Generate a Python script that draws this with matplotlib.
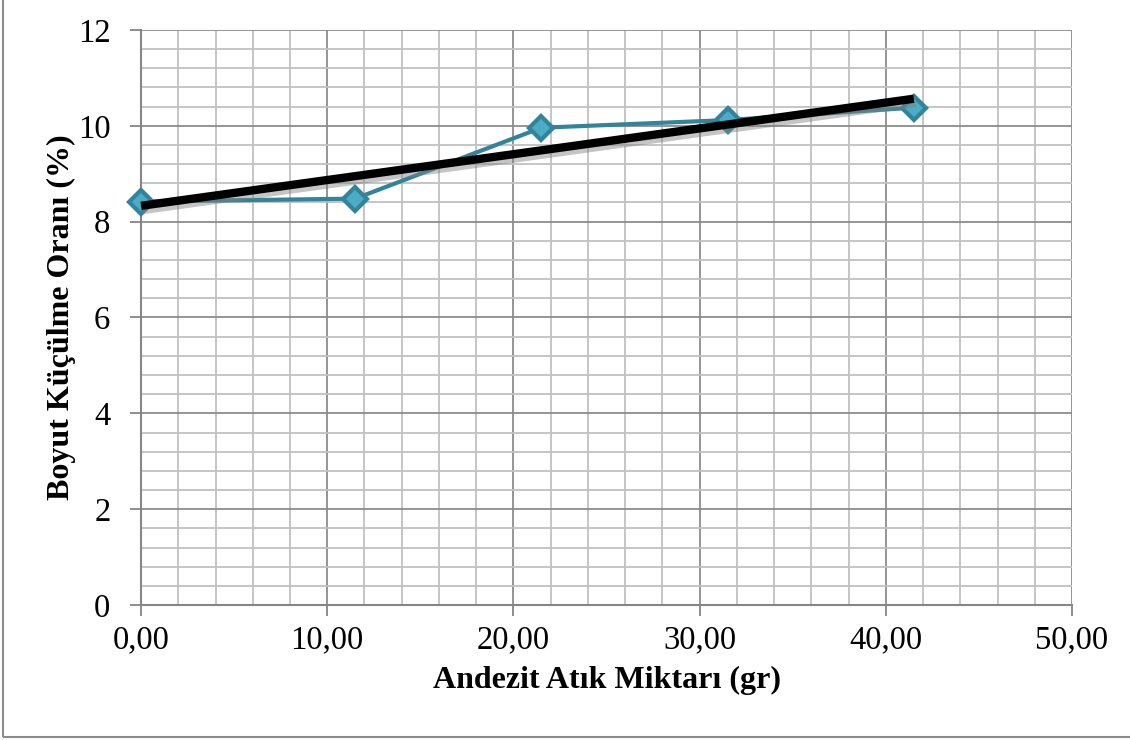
import numpy as np
import matplotlib.pyplot as plt
import matplotlib.patheffects as pe
from matplotlib.patches import Rectangle
from matplotlib.ticker import MultipleLocator, FuncFormatter

plt.rcParams['font.family'] = ['Liberation Serif', 'DejaVu Serif']

# Measured shrinkage vs andesite waste amount
waste_gr = [0.0, 11.5, 21.5, 31.5, 41.5]
shrinkage_pct = [8.42, 8.48, 9.96, 10.12, 10.38]

# Linear trend through the measurements
slope, intercept = np.polyfit(waste_gr, shrinkage_pct, 1)
trend_x = np.array([waste_gr[0], waste_gr[-1]])
trend_y = slope * trend_x + intercept

fig = plt.figure(figsize=(11.3, 7.4), dpi=100)
ax = fig.add_axes([0.1248, 0.1824, 0.8239, 0.7771])

# outer chart border
fig.patches.append(Rectangle((0.003, 0.004), 1.2, 1.2, transform=fig.transFigure,
                             fill=False, edgecolor='#8c8c8c', linewidth=1.5))

ax.set_xlim(0, 50)
ax.set_ylim(0, 12)
ax.xaxis.set_major_locator(MultipleLocator(10))
ax.xaxis.set_minor_locator(MultipleLocator(2))
ax.yaxis.set_major_locator(MultipleLocator(2))
ax.yaxis.set_minor_locator(MultipleLocator(0.4))
ax.xaxis.set_major_formatter(FuncFormatter(lambda v, p: f"{v:.2f}".replace('.', ',')))

ax.grid(which='minor', color='#c0c0c0', linewidth=1.3)
ax.grid(which='major', color='#8c8c8c', linewidth=1.3)
ax.set_axisbelow(True)

for side in ['top', 'right']:
    ax.spines[side].set_visible(False)
for side in ['left', 'bottom']:
    ax.spines[side].set_color('#868686')
    ax.spines[side].set_linewidth(1.5)

ax.tick_params(which='major', direction='out', length=8, width=1.3,
               color='#868686', labelsize=23.5)
ax.tick_params(axis='x', which='major', pad=6)
ax.tick_params(axis='y', which='major', pad=14)
ax.tick_params(which='minor', length=0)

ax.plot(waste_gr, shrinkage_pct, color='#31849b', linewidth=3,
        marker='D', markersize=12.5, markerfacecolor='#4bacc6',
        markeredgecolor='#31849b', markeredgewidth=3, zorder=3, clip_on=False)

ax.plot(trend_x, trend_y, color='black', linewidth=6, solid_capstyle='butt', zorder=4,
        clip_on=False,
        path_effects=[pe.SimpleLineShadow(offset=(1.5, -3), shadow_color='#808080', alpha=0.45),
                      pe.Normal()])

ax.set_xlabel('Andezit Atık Miktarı (gr)', fontsize=23, fontweight='bold', labelpad=8)
ax.set_ylabel('Boyut Küçülme Oranı (%)', fontsize=23, fontweight='bold', labelpad=1)

fig.savefig('out.png', dpi=100)
